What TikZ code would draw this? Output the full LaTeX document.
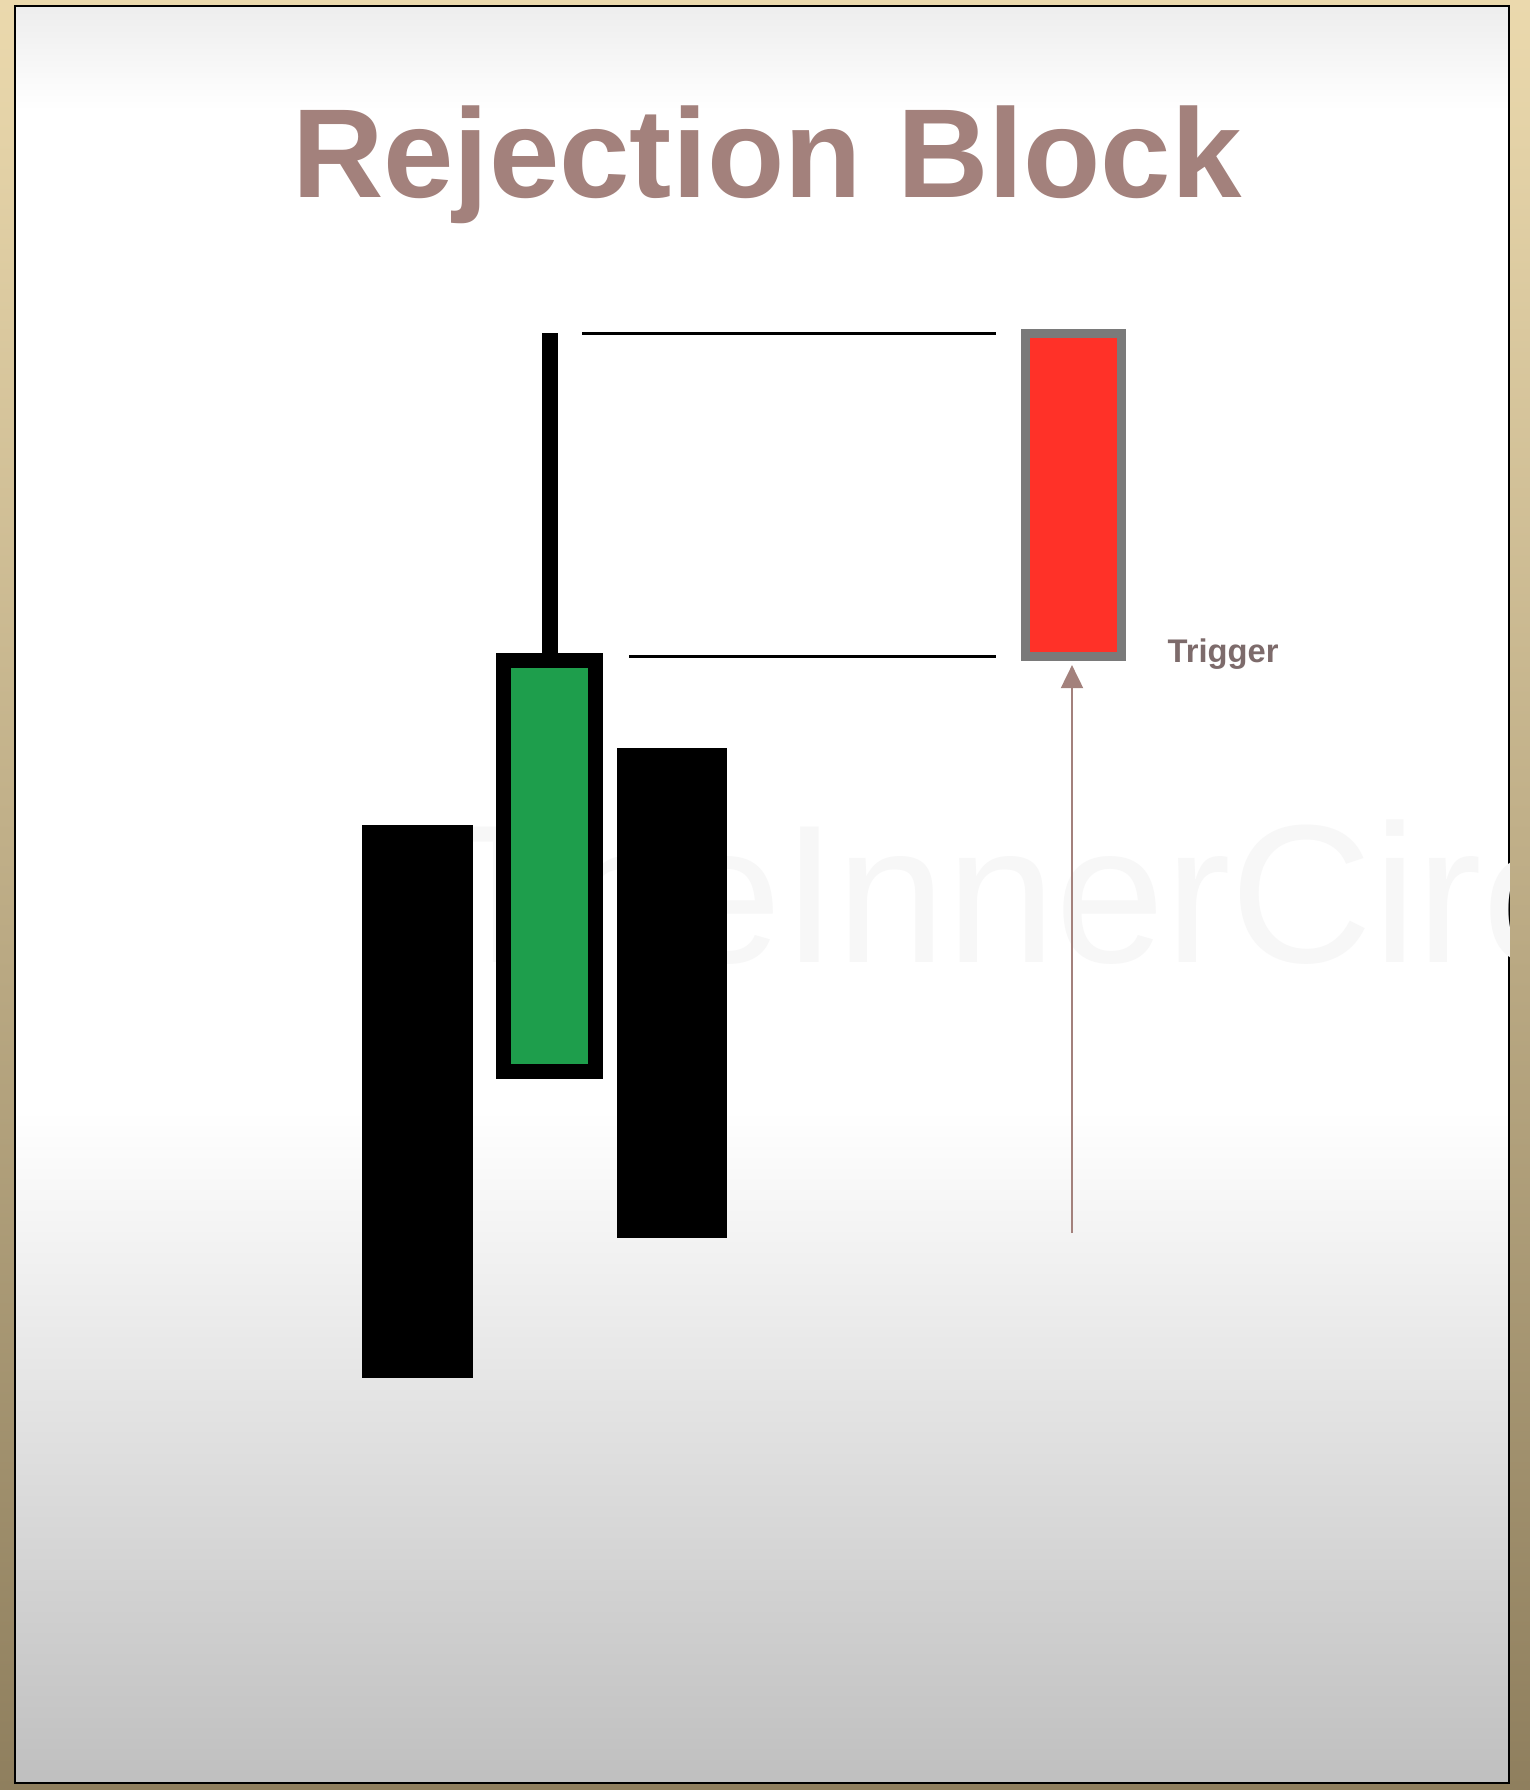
\documentclass[tikz,border=0pt]{standalone}
\usepackage{fontspec}
\setmainfont{Liberation Sans}
\usetikzlibrary{arrows.meta}

\definecolor{framelight}{HTML}{EBD9AD}
\definecolor{framedark}{HTML}{8F7F5E}
\definecolor{titlerose}{HTML}{A3817C}
\definecolor{bullgreen}{HTML}{1E9E4C}
\definecolor{trigred}{HTML}{FF3128}
\definecolor{edgegray}{HTML}{7A7A7A}
\definecolor{labelgray}{HTML}{7D6B6B}

\begin{document}
\begin{tikzpicture}[
    x=0.01cm, y=-0.01cm,
    bear/.style={fill=black, draw=none, inner sep=0pt, outer sep=0pt},
    bull/.style={fill=bullgreen, draw=black, line width=0.15cm, inner sep=0pt, outer sep=0pt},
    trigbox/.style={fill=trigred, draw=edgegray, line width=0.09cm, inner sep=0pt, outer sep=0pt},
    level/.style={draw=black, line width=0.03cm},
    wick/.style={draw=black, line width=0.16cm},
    pointer/.style={draw=titlerose, line width=0.02cm, -{Triangle[length=0.23cm, width=0.22cm]}},
  ]

  % Frame and panel.
  \shade[top color=framelight, bottom color=framedark] (0,0) rectangle (1530,1790);
  \fill[white] (15,6) rectangle (1509,1783);
  \shade[top color=black!7, bottom color=white] (15,6) rectangle (1509,110);
  \shade[top color=white, bottom color=black!25] (15,1110) rectangle (1509,1783);
  \draw[black, line width=0.015cm] (15,6) rectangle (1509,1783);

  % Faint watermark behind the candles.
  \begin{scope}
    \clip (15,6) rectangle (1509,1783);
    \node[anchor=base west, inner sep=0pt, text=black!3, font=\fontsize{56}{56}\selectfont]
      (mark) at (442,962) {TheInnerCircle};
  \end{scope}

  \node[anchor=base, text=titlerose, font=\fontsize{36}{40}\selectfont\bfseries]
    (title) at (767,197) {Rejection Block};

  % Candles.
  \node[bear, minimum width=1.11cm, minimum height=5.53cm] (left) at (417.5,1101.5) {};
  \node[bull, minimum width=0.92cm, minimum height=4.11cm] (mid) at (549.5,866) {};
  \node[bear, minimum width=1.10cm, minimum height=4.90cm] (right) at (672,993) {};
  \node[trigbox, minimum width=0.96cm, minimum height=3.23cm] (trig) at (1073.5,495) {};

  % Wick of the green candle.
  \coordinate (wicktop) at (550,333);
  \draw[wick] (wicktop) -- (mid.north -| wicktop);

  % Levels of the wick.
  \coordinate (hi-l) at (582,333);
  \coordinate (hi-r) at (996,333);
  \coordinate (lo-l) at (629,656.5);
  \coordinate (lo-r) at (996,656.5);
  \draw[level] (hi-l) -- (hi-r);
  \draw[level] (lo-l) -- (lo-r);

  % Trigger arrow.
  \coordinate (armbase) at (1072,1233);
  \draw[pointer, shorten >=0.085cm] (armbase) -- (trig.south -| armbase);
  \node[anchor=base west, inner sep=0pt, text=labelgray, font=\fontsize{9.3}{11}\selectfont\bfseries]
    (triglabel) at (1167,662) {Trigger};
\end{tikzpicture}
\end{document}
